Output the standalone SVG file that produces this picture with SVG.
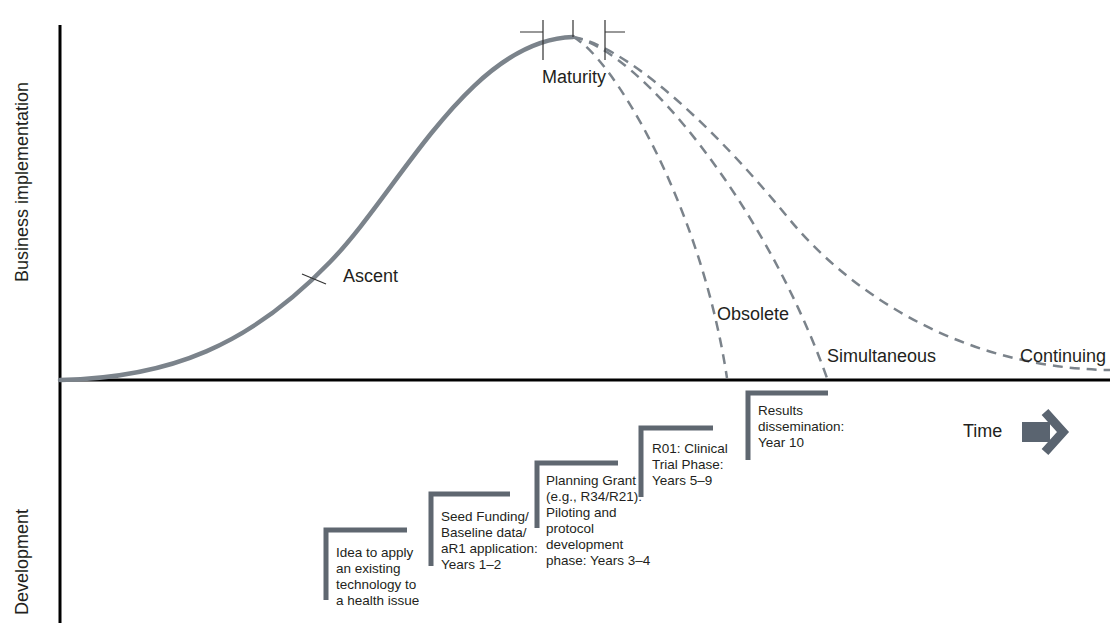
<svg xmlns="http://www.w3.org/2000/svg" width="1110" height="623" viewBox="0 0 1110 623">
<style>
.lbl{font-family:"Liberation Sans",Arial,sans-serif;font-size:18px;fill:#231f20}
.sm{font-family:"Liberation Sans",Arial,sans-serif;font-size:13.5px;fill:#231f20}
.axis{stroke:#000;stroke-width:3;fill:none}
.curve{stroke:#7b838b;stroke-width:4.5;fill:none;stroke-linecap:round}
.dash{stroke:#7b838b;stroke-width:2.5;fill:none;stroke-dasharray:10 7}
.tick{stroke:#333;stroke-width:1.2;fill:none}
.brk{stroke:#5f6770;stroke-width:5;fill:none}
</style>
<rect width="1110" height="623" fill="#fff"/>
<g id="axes">
<line class="axis" x1="60" y1="25" x2="60" y2="623"/>
<line class="axis" x1="60" y1="380" x2="1110" y2="380"/>
<text class="lbl" transform="translate(28,182) rotate(-90)" text-anchor="middle">Business implementation</text>
<text class="lbl" transform="translate(28,562) rotate(-90)" text-anchor="middle">Development</text>
</g>
<g id="connectors">
<path class="curve" d="M60,380 C170,378 250,345 330,262 C400,190 470,40 573,37"/>
<path class="dash" d="M573,37 C610,55 700,200 727,378"/>
<path class="dash" d="M573,37 C640,50 765,205 827,378"/>
<path class="dash" d="M573,37 C620,45 700,110 790,220 C840,281 950,368 1110,370"/>
<line class="tick" x1="302" y1="274" x2="326" y2="284"/>
<path class="tick" d="M520,32 H543 M543,20 V60 M573,20 V37 M605,20 V60 M605,32 H625"/>
</g>
<g id="ascent"><text class="lbl" x="343" y="282">Ascent</text></g>
<g id="maturity"><text class="lbl" x="542" y="83">Maturity</text></g>
<g id="obsolete"><text class="lbl" x="717" y="320">Obsolete</text></g>
<g id="simultaneous"><text class="lbl" x="827" y="362">Simultaneous</text></g>
<g id="continuing"><text class="lbl" x="1020" y="362">Continuing</text></g>
<g id="time">
<text class="lbl" x="963" y="437">Time</text>
<rect x="1022" y="422" width="28" height="20" fill="#5a6470"/>
<polyline points="1045,412 1063,432 1045,452" fill="none" stroke="#5a6470" stroke-width="9" stroke-linejoin="miter"/>
</g>
<g id="step1">
<path class="brk" d="M326,600 V530 H407"/>
<text class="sm"><tspan x="336" y="557">Idea to apply</tspan><tspan x="336" y="573">an existing</tspan><tspan x="336" y="589">technology to</tspan><tspan x="336" y="605">a health issue</tspan></text>
</g>
<g id="step2">
<path class="brk" d="M431,566 V494 H510"/>
<text class="sm"><tspan x="441" y="521">Seed Funding/</tspan><tspan x="441" y="537">Baseline data/</tspan><tspan x="441" y="553">aR1 application:</tspan><tspan x="441" y="569">Years 1–2</tspan></text>
</g>
<g id="step3">
<path class="brk" d="M537,528 V463 H618"/>
<text class="sm"><tspan x="546" y="485">Planning Grant</tspan><tspan x="546" y="501">(e.g., R34/R21):</tspan><tspan x="546" y="517">Piloting and</tspan><tspan x="546" y="533">protocol</tspan><tspan x="546" y="549">development</tspan><tspan x="546" y="565">phase: Years 3–4</tspan></text>
</g>
<g id="step4">
<path class="brk" d="M641,497 V428 H713"/>
<text class="sm"><tspan x="652" y="453">R01: Clinical</tspan><tspan x="652" y="469">Trial Phase:</tspan><tspan x="652" y="485">Years 5–9</tspan></text>
</g>
<g id="step5">
<path class="brk" d="M748,460 V393 H828"/>
<text class="sm"><tspan x="758" y="415">Results</tspan><tspan x="758" y="431">dissemination:</tspan><tspan x="758" y="447">Year 10</tspan></text>
</g>
</svg>
